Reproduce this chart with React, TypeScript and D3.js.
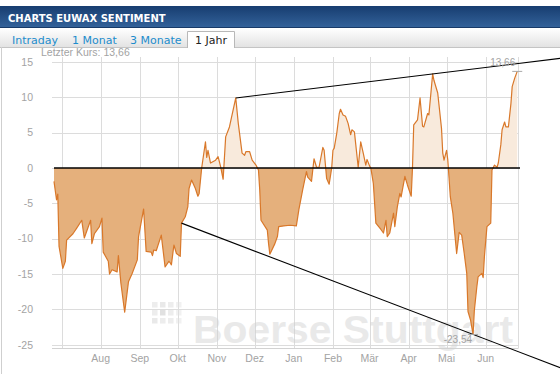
import React, { useRef, useEffect } from 'react';
import * as d3 from 'd3';

// sentiment values (date, value)
const dates = [
  '2011-06-25', '2011-06-27', '2011-06-28', '2011-06-29', '2011-07-02', '2011-07-04', '2011-07-05', '2011-07-10',
  '2011-07-13', '2011-07-17', '2011-07-19', '2011-07-24', '2011-07-25', '2011-07-27', '2011-07-31', '2011-08-02',
  '2011-08-03', '2011-08-07', '2011-08-08', '2011-08-10', '2011-08-14', '2011-08-15', '2011-08-17', '2011-08-20',
  '2011-08-23', '2011-08-26', '2011-08-30', '2011-08-31', '2011-09-04', '2011-09-06', '2011-09-10', '2011-09-11',
  '2011-09-12', '2011-09-14', '2011-09-18', '2011-09-21', '2011-09-24', '2011-09-25', '2011-09-26', '2011-09-28',
  '2011-09-30', '2011-10-03', '2011-10-04', '2011-10-07', '2011-10-09', '2011-10-10', '2011-10-12', '2011-10-15',
  '2011-10-17', '2011-10-18', '2011-10-20', '2011-10-23', '2011-10-24', '2011-10-25', '2011-10-27', '2011-10-31',
  '2011-11-02', '2011-11-04', '2011-11-06', '2011-11-08', '2011-11-11', '2011-11-16', '2011-11-18', '2011-11-21',
  '2011-11-23', '2011-11-24', '2011-11-27', '2011-11-29', '2011-12-02', '2011-12-04', '2011-12-05', '2011-12-06',
  '2011-12-11', '2011-12-12', '2011-12-13', '2011-12-17', '2011-12-19', '2011-12-20', '2011-12-24', '2011-12-29',
  '2012-01-03', '2012-01-05', '2012-01-08', '2012-01-11', '2012-01-12', '2012-01-15', '2012-01-17', '2012-01-19',
  '2012-01-21', '2012-01-24', '2012-01-25', '2012-01-27', '2012-01-29', '2012-01-31', '2012-02-01', '2012-02-02',
  '2012-02-04', '2012-02-06', '2012-02-07', '2012-02-09', '2012-02-11', '2012-02-13', '2012-02-15', '2012-02-16',
  '2012-02-18', '2012-02-21', '2012-02-23', '2012-02-25', '2012-02-27', '2012-02-28', '2012-03-01', '2012-03-02',
  '2012-03-04', '2012-03-06', '2012-03-10', '2012-03-12', '2012-03-14', '2012-03-15', '2012-03-17', '2012-03-20',
  '2012-03-21', '2012-03-23', '2012-03-25', '2012-03-26', '2012-03-29', '2012-03-31', '2012-04-03', '2012-04-04',
  '2012-04-05', '2012-04-08', '2012-04-10', '2012-04-12', '2012-04-13', '2012-04-16', '2012-04-17', '2012-04-20',
  '2012-04-21', '2012-04-24', '2012-04-27', '2012-04-28', '2012-04-29', '2012-05-01', '2012-05-02', '2012-05-04',
  '2012-05-06', '2012-05-09', '2012-05-11', '2012-05-13', '2012-05-15', '2012-05-17', '2012-05-18', '2012-05-20',
  '2012-05-22', '2012-05-23', '2012-05-25', '2012-05-26', '2012-05-29', '2012-05-30', '2012-05-31', '2012-06-02',
  '2012-06-05', '2012-06-06', '2012-06-08', '2012-06-10', '2012-06-11', '2012-06-13', '2012-06-14', '2012-06-16',
  '2012-06-17', '2012-06-19', '2012-06-21', '2012-06-22', '2012-06-24', '2012-06-26',
];
const values = [
  -1.9, -4.5, -3.7, -11.1, -14.2, -13.2, -10.2, -9.3,
  -8.5, -7.4, -9.9, -7.4, -10.7, -9.3, -8.3, -7.1,
  -11.9, -13.2, -15.0, -14.4, -14.7, -12.4, -16.3, -20.4,
  -16.1, -14.9, -13.0, -9.7, -5.8, -11.8, -11.9, -12.4,
  -11.6, -11.7, -9.5, -14.0, -13.2, -13.4, -13.7, -10.9,
  -12.1, -12.5, -7.8, -6.9, -5.5, -2.9, -1.7, -2.9,
  -4.0, -3.6, 0.0, 3.7, 1.5, 2.5, 0.7, 1.1,
  1.6, 0.2, -1.6, 4.4, 5.8, 9.9, 6.3, 2.1,
  1.8, 2.3, 2.3, 1.1, 0.4, -0.3, -3.1, -7.4,
  -8.8, -10.7, -12.2, -10.7, -9.7, -8.3, -8.2, -8.1,
  -8.2, -5.9, -3.1, -0.5, -1.3, -1.9, 1.3, 0.1,
  0.1, 2.9, 2.5, -1.5, -2.3, 0.0, 2.5, 2.8,
  4.9, 7.7, 8.3, 7.5, 7.3, 6.3, 4.7, 5.4,
  5.1, 0.1, 3.7, 2.1, 0.4, 1.2, 0.3, 0.0,
  -2.2, -7.8, -8.7, -9.2, -7.4, -9.7, -9.2, -6.4,
  -8.3, -5.5, -3.6, -4.1, -1.2, -2.4, -4.0, 0.0,
  6.1, 6.8, 9.9, 5.9, 5.8, 7.7, 7.5, 13.3,
  12.4, 10.6, 5.6, 2.1, 1.1, 2.5, 1.1, -4.1,
  -6.4, -12.1, -9.1, -9.5, -12.1, -14.9, -20.3, -21.5,
  -23.54, -20.2, -16.8, -15.4, -14.9, -15.5, -12.5, -8.3,
  -7.8, -0.3, 0.4, 0.1, 0.7, 3.3, 5.4, 6.5,
  5.8, 5.8, 9.1, 11.5, 12.7, 13.66,
];

const monthLabels = ['', 'Aug', 'Sep', 'Okt', 'Nov', 'Dez', 'Jan', 'Feb', 'Mär', 'Apr', 'Mai', 'Jun'];
const yTicks = [15, 10, 5, 0, -5, -10, -15, -20, -25];
const tabLabels = ['Intraday', '1 Monat', '3 Monate', '1 Jahr'];
const upperTrend: [string, number][] = [['2011-11-16', 9.9], ['2012-04-20', 13.3]];
const lowerTrend: [string, number][] = [['2011-10-04', -7.8], ['2012-05-22', -23.54]];
const lastLabel = '13,66';
const minLabel = '-23,54';

const W = 560;
const H = 374;
const gray = '#a3a3a3';
const axisFont = '"Liberation Sans", Arial, sans-serif';
const uiFont = '"DejaVu Sans", Verdana, sans-serif';

function App() {
  const ref = useRef<SVGSVGElement>(null);

  useEffect(() => {
    const parse = d3.timeParse('%Y-%m-%d');
    const data = dates.map((d, i) => ({ date: parse(d) as Date, value: values[i] }));

    const svg = d3.select(ref.current);
    svg.selectAll('*').remove();

    const x = d3.scaleTime()
      .domain([parse('2011-06-25') as Date, parse('2012-06-27') as Date])
      .range([54, 518.5]);
    const y = d3.scaleLinear().domain([-25, 15]).range([344.75, 61.9]);

    const defs = svg.append('defs');
    const hg = defs.append('linearGradient').attr('id', 'hdr').attr('x1', 0).attr('y1', 0).attr('x2', 0).attr('y2', 1);
    hg.append('stop').attr('offset', '0%').attr('stop-color', '#173d70');
    hg.append('stop').attr('offset', '100%').attr('stop-color', '#34639b');
    const tg = defs.append('linearGradient').attr('id', 'tabs').attr('x1', 0).attr('y1', 0).attr('x2', 0).attr('y2', 1);
    tg.append('stop').attr('offset', '0%').attr('stop-color', '#ffffff');
    tg.append('stop').attr('offset', '100%').attr('stop-color', '#e3e3e3');
    defs.append('clipPath').attr('id', 'above').append('rect')
      .attr('x', 0).attr('y', 0).attr('width', W).attr('height', y(0));
    defs.append('clipPath').attr('id', 'below').append('rect')
      .attr('x', 0).attr('y', y(0)).attr('width', W).attr('height', H - y(0));

    // header bar
    svg.append('rect').attr('x', 0).attr('y', 6).attr('width', W).attr('height', 22).attr('fill', 'url(#hdr)');
    svg.append('line').attr('x1', 0).attr('x2', W).attr('y1', 27.5).attr('y2', 27.5).attr('stroke', '#173a68');
    svg.append('text').attr('x', 8).attr('y', 21.5)
      .attr('fill', '#fff').attr('font-family', uiFont).attr('font-weight', 'bold').attr('font-size', 10)
      .text('CHARTS EUWAX SENTIMENT');

    // tab strip
    svg.append('rect').attr('x', 0).attr('y', 28).attr('width', W).attr('height', 19).attr('fill', 'url(#tabs)');
    svg.append('line').attr('x1', 0).attr('x2', W).attr('y1', 47.5).attr('y2', 47.5).attr('stroke', '#c4c4c4');
    svg.append('line').attr('x1', 1.5).attr('x2', 1.5).attr('y1', 47).attr('y2', H).attr('stroke', '#cfcfcf');
    svg.append('path').attr('d', 'M187.5,48V31.5H234.5V48').attr('fill', '#fff').attr('stroke', '#b8b8b8');
    svg.append('rect').attr('x', 188).attr('y', 32).attr('width', 46).attr('height', 16).attr('fill', '#fff');
    const tabX = [12, 72, 130, 195];
    tabLabels.forEach((t, i) => {
      svg.append('text').attr('x', tabX[i]).attr('y', 43.5)
        .attr('fill', i === 3 ? '#222' : '#1d8ccc').attr('font-family', uiFont).attr('font-size', 11)
        .text(t);
    });

    svg.append('text').attr('x', 41).attr('y', 55.5)
      .attr('fill', gray).attr('font-family', axisFont).attr('font-size', 10.5)
      .text('Letzter Kurs: ' + lastLabel);

    // grid
    const months = d3.timeMonth.range(parse('2011-07-01') as Date, parse('2012-07-01') as Date);
    svg.append('g').selectAll('line').data(yTicks).enter().append('line')
      .attr('x1', 52).attr('x2', 518.5)
      .attr('y1', d => Math.round(y(d)) + 0.5).attr('y2', d => Math.round(y(d)) + 0.5)
      .attr('stroke', '#dcdcdc');
    svg.append('g').selectAll('line').data(months).enter().append('line')
      .attr('x1', d => Math.round(x(d)) + 0.5).attr('x2', d => Math.round(x(d)) + 0.5)
      .attr('y1', 57).attr('y2', 348)
      .attr('stroke', '#dcdcdc');
    svg.append('line').attr('x1', 518.5).attr('x2', 518.5).attr('y1', 57).attr('y2', 348).attr('stroke', '#dcdcdc');
    svg.append('line').attr('x1', 52).attr('x2', 518.5).attr('y1', 348.5).attr('y2', 348.5).attr('stroke', '#d2d2d2');

    // watermark
    const wm = svg.append('g').attr('opacity', 0.45);
    const shades = ['#d8d8d8', '#cfcfcf', '#d8d8d8', '#e2e2e2', '#d8d8d8', '#bdbdbd', '#d8d8d8', '#e2e2e2', '#cfcfcf', '#d8d8d8', '#d8d8d8', '#e2e2e2'];
    shades.forEach((c, i) => {
      wm.append('rect').attr('x', 152 + (i % 4) * 8).attr('y', 302 + Math.floor(i / 4) * 8)
        .attr('width', 5.5).attr('height', 5.5).attr('fill', c);
    });
    wm.append('text').attr('x', 193).attr('y', 343)
      .attr('fill', '#d0d0d0').attr('font-family', axisFont).attr('font-weight', 'bold').attr('font-size', 38)
      .attr('textLength', 320).attr('lengthAdjust', 'spacingAndGlyphs')
      .text('Boerse Stuttgart');

    // axis labels
    svg.append('g').selectAll('text').data(yTicks).enter().append('text')
      .attr('x', 33).attr('y', d => y(d)).attr('dy', '0.36em').attr('text-anchor', 'end')
      .attr('fill', gray).attr('font-family', axisFont).attr('font-size', 10.5)
      .text(d => String(d));
    svg.append('g').selectAll('text').data(months).enter().append('text')
      .attr('x', d => x(d)).attr('y', 361.5).attr('text-anchor', 'middle')
      .attr('fill', gray).attr('font-family', axisFont).attr('font-size', 10.5)
      .text((d, i) => monthLabels[i]);

    // area split at zero
    const area = d3.area<{ date: Date; value: number }>()
      .x(d => x(d.date)).y0(y(0)).y1(d => y(d.value));
    svg.append('path').datum(data).attr('d', area).attr('fill', '#f8eadc').attr('clip-path', 'url(#above)');
    svg.append('path').datum(data).attr('d', area).attr('fill', '#e5b07c').attr('clip-path', 'url(#below)');

    const line = d3.line<{ date: Date; value: number }>().x(d => x(d.date)).y(d => y(d.value));
    svg.append('path').datum(data).attr('d', line)
      .attr('fill', 'none').attr('stroke', '#d9782a').attr('stroke-width', 1.2).attr('stroke-linejoin', 'round');

    // zero line
    svg.append('line').attr('x1', 54).attr('x2', 520).attr('y1', y(0)).attr('y2', y(0))
      .attr('stroke', '#000').attr('stroke-width', 1.5);

    // trend lines, extended to the right edge
    const xEnd = x.invert(W + 10);
    [upperTrend, lowerTrend].forEach(tr => {
      const d0 = parse(tr[0][0]) as Date;
      const d1 = parse(tr[1][0]) as Date;
      const slope = (tr[1][1] - tr[0][1]) / (+d1 - +d0);
      const vEnd = tr[0][1] + slope * (+xEnd - +d0);
      svg.append('line')
        .attr('x1', x(d0)).attr('y1', y(tr[0][1]))
        .attr('x2', x(xEnd)).attr('y2', y(vEnd))
        .attr('stroke', '#000').attr('stroke-width', 1.1);
    });

    // last / min markers
    const last = data[data.length - 1];
    const minPt = data.reduce((a, b) => (b.value < a.value ? b : a));
    [last, minPt].forEach(p => {
      svg.append('line').attr('x1', x(p.date) - 5).attr('x2', x(p.date) + 5)
        .attr('y1', y(p.value)).attr('y2', y(p.value)).attr('stroke', '#a8a8a8');
    });
    svg.append('text').attr('x', x(last.date) - 2).attr('y', y(last.value) - 5).attr('text-anchor', 'end')
      .attr('fill', gray).attr('font-family', axisFont).attr('font-size', 10)
      .text(lastLabel);
    svg.append('text').attr('x', x(minPt.date) - 1).attr('y', y(minPt.value) + 9).attr('text-anchor', 'end')
      .attr('fill', gray).attr('font-family', axisFont).attr('font-size', 10)
      .text(minLabel);
  }, []);

  return (
    <svg ref={ref} width={W} height={H} style={{ position: 'absolute', left: 0, top: 0, background: '#fff' }} />
  );
}

export default App;
